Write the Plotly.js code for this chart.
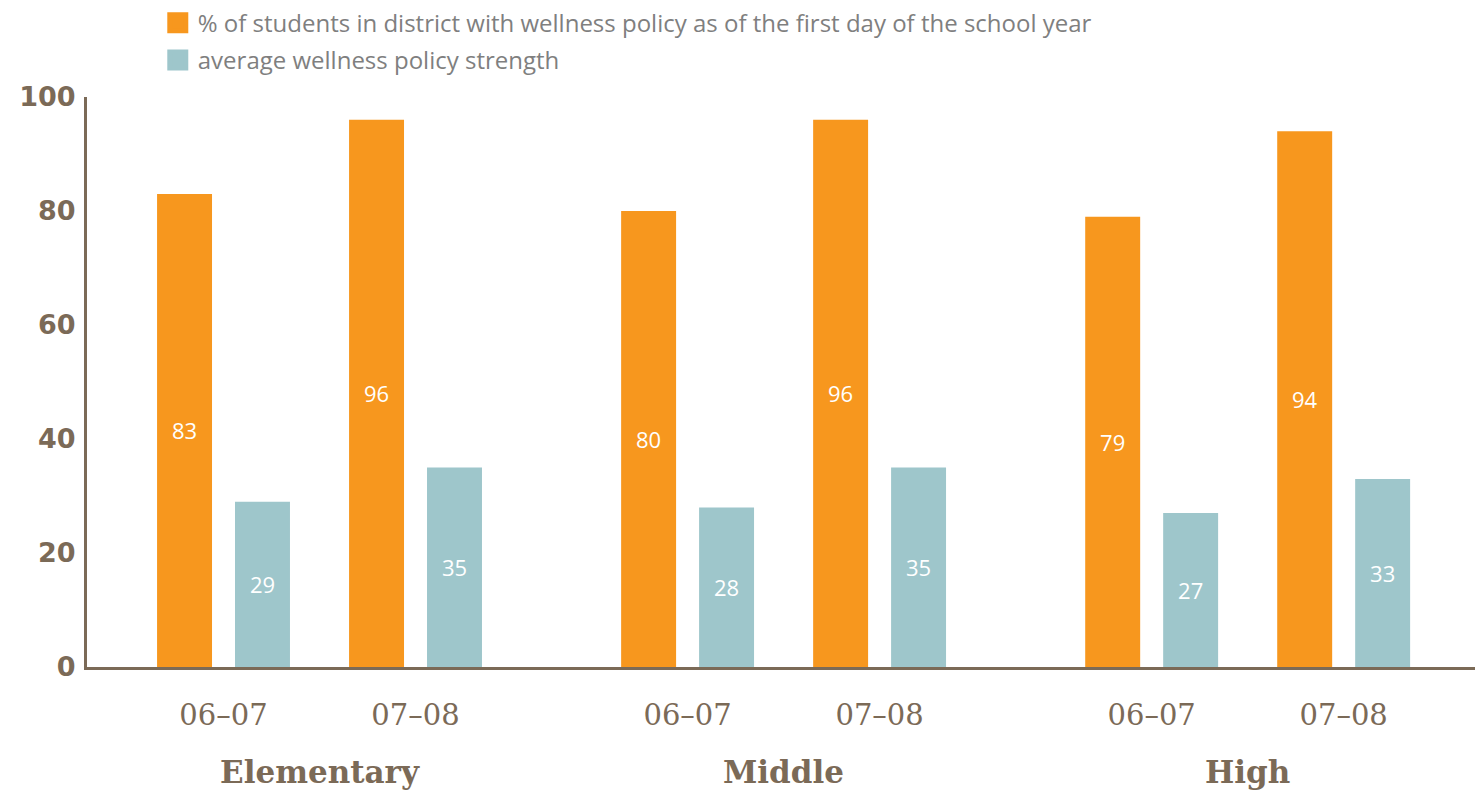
<!DOCTYPE html>
<html>
<head>
<meta charset="utf-8">
<script src="https://cdn.plot.ly/plotly-3.0.1.min.js"></script>
<style>html,body{margin:0;padding:0;background:#fff;}#chart{width:1475px;height:790px;}</style>
</head>
<body>
<div id="chart"></div>
<script>
// ---- data ----
const schoolLevels = ["Elementary", "Middle", "High"];
const schoolYears = ["06\u201307", "07\u201308"];
const seriesNames = [
  "% of students in district with wellness policy as of the first day of the school year",
  "average wellness policy strength"
];
// values ordered: Elementary 06-07, 07-08, Middle 06-07, 07-08, High 06-07, 07-08
const pctWithPolicy = [83, 96, 80, 96, 79, 94];
const avgStrength = [29, 35, 28, 35, 27, 33];

// ---- layout helpers ----
const GROUP_GAP = 2.417;
const xs = [], tickText = [];
schoolLevels.forEach((lvl, g) => {
  schoolYears.forEach((yr, y) => {
    xs.push(g * GROUP_GAP + y);
    tickText.push(yr);
  });
});
const brown = "#7b6a57";
const orange = "#f7971e";
const teal = "#9ec6cb";
const colors = [orange, teal];

const barText = {family: "Open Sans, sans-serif", size: 22, color: "#ffffff"};
const traces = [
  {type: "bar", name: seriesNames[0], x: xs, y: pctWithPolicy, marker: {color: orange},
   text: pctWithPolicy.map(String), textposition: "inside", insidetextanchor: "middle",
   textangle: 0, textfont: barText, hoverinfo: "name+y", showlegend: false, legendgroup: "a"},
  {type: "bar", name: seriesNames[1], x: xs, y: avgStrength, marker: {color: teal},
   text: avgStrength.map(String), textposition: "inside", insidetextanchor: "middle",
   textangle: 0, textfont: barText, hoverinfo: "name+y", showlegend: false, legendgroup: "b"}
];
// legend-only entries with larger square swatches
seriesNames.forEach((nm, i) => {
  traces.push({type: "scatter", mode: "markers", name: nm, x: [null], y: [null],
    legendgroup: i === 0 ? "a" : "b",
    marker: {symbol: "square", size: 16, color: colors[i], line: {color: colors[i], width: 5}},
    hoverinfo: "skip"});
});

const annotations = schoolLevels.map((lvl, g) => ({
  x: g * GROUP_GAP + 0.5, xref: "x", y: -0.185, yref: "paper",
  text: "<b>" + lvl + "</b>", showarrow: false, yanchor: "middle",
  font: {family: "DejaVu Serif, serif", size: 31, color: brown}
}));

const layout = {
  width: 1475, height: 790,
  margin: {l: 87, r: 0, t: 97, b: 123},
  paper_bgcolor: "#fff", plot_bgcolor: "#fff",
  barmode: "group", bargap: 0.188, bargroupgap: 0.295,
  showlegend: true,
  legend: {x: 0.051, xanchor: "left", y: 1.169, yanchor: "top", tracegroupgap: 3,
    itemsizing: "trace",
    font: {family: "Open Sans, sans-serif", size: 24, color: "#7f7f7f"},
    bgcolor: "rgba(0,0,0,0)"},
  xaxis: {range: [-0.711, 6.518], tickmode: "array", tickvals: xs, ticktext: tickText,
    showgrid: false, zeroline: false, showline: true, linecolor: brown, linewidth: 3,
    ticks: "outside", ticklen: 20, tickcolor: "rgba(0,0,0,0)",
    tickfont: {family: "DejaVu Serif, serif", size: 29, color: brown}, fixedrange: true},
  yaxis: {range: [0, 100], tickvals: [0, 20, 40, 60, 80, 100], showgrid: false, zeroline: false,
    showline: true, linecolor: brown, linewidth: 3, ticks: "", ticklabelstandoff: 3,
    tickfont: {family: "DejaVu Sans, sans-serif", size: 27, color: brown, weight: 700}, fixedrange: true},
  annotations: annotations
};

Plotly.newPlot("chart", traces, layout, {displayModeBar: false, responsive: false});
</script>
</body>
</html>
